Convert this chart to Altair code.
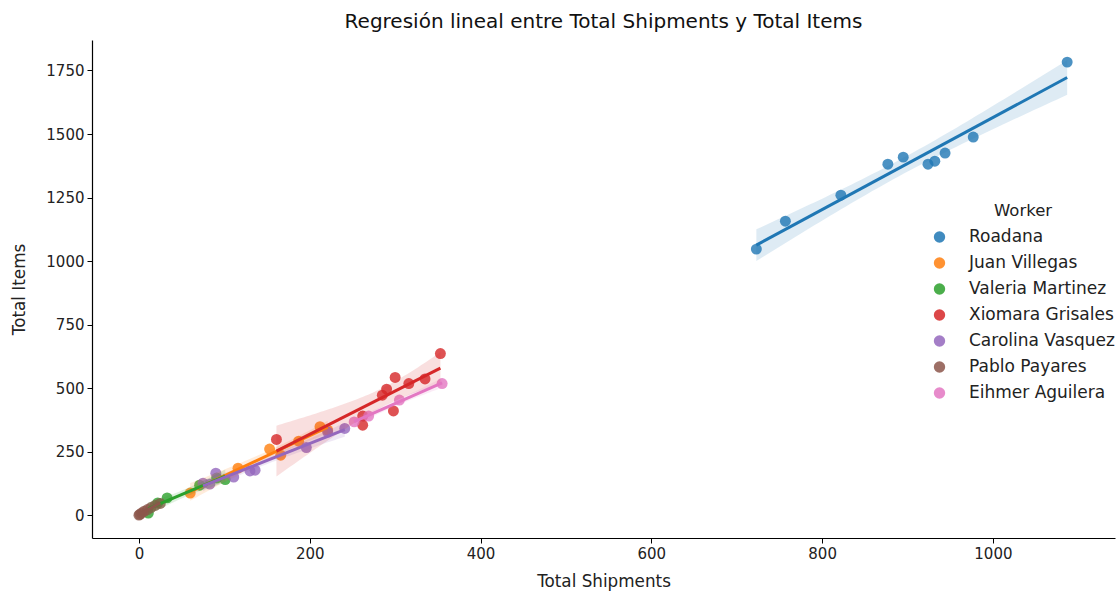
import altair as alt
import numpy as np
import pandas as pd

workers = ["Roadana", "Juan Villegas", "Valeria Martinez", "Xiomara Grisales",
           "Carolina Vasquez", "Pablo Payares", "Eihmer Aguilera"]
colors = ["#1f77b4", "#ff7f0e", "#2ca02c", "#d62728", "#9467bd", "#8c564b", "#e377c2"]

roadana_x = [723, 757, 822, 877, 895, 924, 932, 944, 977, 1087]
roadana_y = [1047, 1157, 1259, 1381, 1409, 1381, 1393, 1425, 1488, 1783]
juan_x = [60, 116, 153, 166, 187, 212, 221]
juan_y = [87, 185, 260, 236, 291, 348, 335]
valeria_x = [11, 22, 33, 71, 91, 101]
valeria_y = [8, 48, 68, 118, 146, 140]
xiomara_x = [161, 262, 262, 285, 290, 298, 300, 316, 335, 353]
xiomara_y = [298, 354, 390, 472, 496, 410, 542, 518, 536, 636]
carolina_x = [75, 83, 90, 111, 130, 136, 196, 221, 241]
carolina_y = [126, 122, 165, 150, 174, 177, 266, 327, 341]
pablo_x = [0, 1, 3, 6, 10, 14, 19, 25]
pablo_y = [0, 3, 8, 15, 22, 30, 38, 46]
eihmer_x = [252, 269, 305, 355]
eihmer_y = [367, 390, 453, 518]

series = {
    "Roadana": (roadana_x, roadana_y),
    "Juan Villegas": (juan_x, juan_y),
    "Valeria Martinez": (valeria_x, valeria_y),
    "Xiomara Grisales": (xiomara_x, xiomara_y),
    "Carolina Vasquez": (carolina_x, carolina_y),
    "Pablo Payares": (pablo_x, pablo_y),
    "Eihmer Aguilera": (eihmer_x, eihmer_y),
}

rows = []
for w, (xs, ys) in series.items():
    for a, b in zip(xs, ys):
        rows.append({"Worker": w, "Total Shipments": a, "Total Items": b})
df = pd.DataFrame(rows)


def t975(dfree):
    z = 1.959964
    return z + (z**3 + z) / (4 * dfree) + (5 * z**5 + 16 * z**3 + 3 * z) / (96 * dfree**2)


band_rows = []
for w, (xs, ys) in series.items():
    xa = np.array(xs, float)
    ya = np.array(ys, float)
    n = len(xa)
    b1, b0 = np.polyfit(xa, ya, 1)
    resid = ya - (b0 + b1 * xa)
    s = np.sqrt(np.sum(resid**2) / (n - 2))
    sxx = np.sum((xa - xa.mean())**2)
    tq = t975(n - 2)
    for gx in np.linspace(xa.min(), xa.max(), 60):
        fit = b0 + b1 * gx
        se = s * np.sqrt(1.0 / n + (gx - xa.mean())**2 / sxx)
        band_rows.append({"Worker": w, "x": gx, "lo": fit - tq * se, "hi": fit + tq * se})
band = pd.DataFrame(band_rows)

color_scale = alt.Scale(domain=workers, range=colors)
xscale = alt.Scale(domain=[-55, 1143], nice=False, zero=False)
yscale = alt.Scale(domain=[-90, 1870], nice=False, zero=False)

xax = alt.Axis(values=[0, 200, 400, 600, 800, 1000], title="Total Shipments", grid=False, format="d")
yax = alt.Axis(values=[0, 250, 500, 750, 1000, 1250, 1500, 1750], title="Total Items", grid=False, format="d")

points = alt.Chart(df).mark_circle(size=120, opacity=0.8).encode(
    x=alt.X("Total Shipments:Q", scale=xscale, axis=xax),
    y=alt.Y("Total Items:Q", scale=yscale, axis=yax),
    color=alt.Color("Worker:N", scale=color_scale, sort=workers,
                    legend=alt.Legend(title="Worker", orient="none", legendX=839, legendY=163,
                                      symbolType="circle", symbolSize=130, symbolOpacity=0.85,
                                      labelFontSize=17, titleFontSize=16.5, titleFontWeight="normal",
                                      titleAnchor="middle", rowPadding=8, labelOffset=21,
                                      titlePadding=9, labelColor="#222", titleColor="#222")),
)

bands = alt.Chart(band).mark_area(opacity=0.15).encode(
    x=alt.X("x:Q", scale=xscale),
    y=alt.Y("lo:Q", scale=yscale),
    y2="hi:Q",
    color=alt.Color("Worker:N", scale=color_scale, legend=None),
    detail="Worker:N",
)

lines = alt.Chart(df).transform_regression(
    "Total Shipments", "Total Items", groupby=["Worker"]
).mark_line(strokeWidth=3).encode(
    x=alt.X("Total Shipments:Q", scale=xscale),
    y=alt.Y("Total Items:Q", scale=yscale),
    color=alt.Color("Worker:N", scale=color_scale, legend=None),
    detail="Worker:N",
)

chart = alt.layer(points, bands, lines).properties(
    width=1023, height=498,
    title=alt.Title("Regresión lineal entre Total Shipments y Total Items", fontSize=20,
                    fontWeight="normal", font="DejaVu Sans", offset=8, color="#111"),
    padding={"left": 92, "top": 40, "right": 5, "bottom": 55},
    autosize=alt.AutoSizeParams(type="none"),
).configure_view(stroke=None).configure_axis(
    labelFont="DejaVu Sans", titleFont="DejaVu Sans", labelFontSize=15, titleFontSize=16.8,
    titleFontWeight="normal", domainColor="black", tickColor="black", labelColor="#222",
    titleColor="#222", tickSize=5, labelPadding=3, domainWidth=1.2,
).configure_axisX(titlePadding=12).configure_axisY(titlePadding=17).configure_legend(
    labelFont="DejaVu Sans", titleFont="DejaVu Sans"
).configure_circle(strokeWidth=0)

chart.save("out.html", embed_options={"renderer": "svg", "actions": False})
